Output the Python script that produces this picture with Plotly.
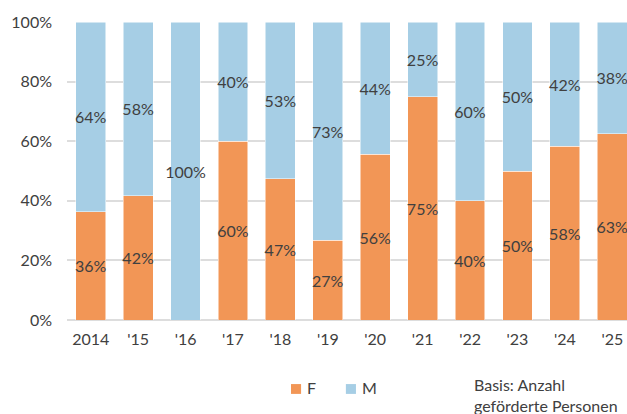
import plotly.graph_objects as go

years = ["2014", "'15", "'16", "'17", "'18", "'19", "'20", "'21", "'22", "'23", "'24", "'25"]
female = [36.4, 41.7, 0, 60, 47.4, 26.7, 55.6, 75, 40, 50, 58.3, 62.5]
male = [63.6, 58.3, 100, 40, 52.6, 73.3, 44.4, 25, 60, 50, 41.7, 37.5]

ORANGE = "#F29656"
BLUE = "#A6CEE5"
TXT = "#404040"
FONT = "Lato"
FS = 16


def pct_labels(vals):
    return [f"{int(v + 0.5)}%" if v > 0 else "" for v in vals]


fig = go.Figure()
for name, vals, color in [("F", female, ORANGE), ("M", male, BLUE)]:
    fig.add_trace(go.Bar(
        x=years, y=vals, name=name,
        marker=dict(color=color, line=dict(color="white", width=0.5)),
        text=pct_labels(vals),
        textposition="inside",
        insidetextanchor="middle",
        textangle=0,
        constraintext="none",
        textfont=dict(color=TXT, size=FS, family=FONT),
        hovertemplate="%{x}: %{y:.1f}%<extra>" + name + "</extra>",
    ))

# legend drawn by hand: small square + label, like the original
for x0, color, label in [(0.400, ORANGE, "F"), (0.498, BLUE, "M")]:
    fig.add_shape(type="rect", xref="paper", yref="paper",
                  x0=x0, x1=x0 + 0.018, y0=-0.248, y1=-0.215,
                  fillcolor=color, line=dict(width=0))
    fig.add_annotation(x=x0 + 0.025, y=-0.228, xref="paper", yref="paper",
                       xanchor="left", yanchor="middle", showarrow=False,
                       text=label, font=dict(color=TXT, size=FS, family=FONT))

fig.add_annotation(
    x=0.723, y=-0.178, xref="paper", yref="paper",
    xanchor="left", yanchor="top", align="left", showarrow=False,
    text="Basis: Anzahl<br>geförderte Personen",
    font=dict(color=TXT, size=FS, family=FONT),
)

fig.update_layout(
    width=627, height=414,
    barmode="stack", bargap=0.37,
    showlegend=False,
    margin=dict(l=67, r=0, t=22, b=94),
    plot_bgcolor="white", paper_bgcolor="white",
    font=dict(family=FONT, size=FS, color=TXT),
    xaxis=dict(range=[-0.5, 11.31], showgrid=False, ticks="", showline=False,
               ticklabelstandoff=8, tickfont=dict(size=FS, color=TXT)),
    yaxis=dict(range=[0, 100], dtick=20, ticksuffix="%", showgrid=True,
               gridcolor="#DDDDDD", gridwidth=1.5, zeroline=True,
               zerolinecolor="#DDDDDD", zerolinewidth=1.5,
               ticklabelstandoff=14, tickfont=dict(size=FS, color=TXT)),
)

fig.write_html("out.html", config={"displayModeBar": False},
               post_script="document.body.style.margin='0';")
